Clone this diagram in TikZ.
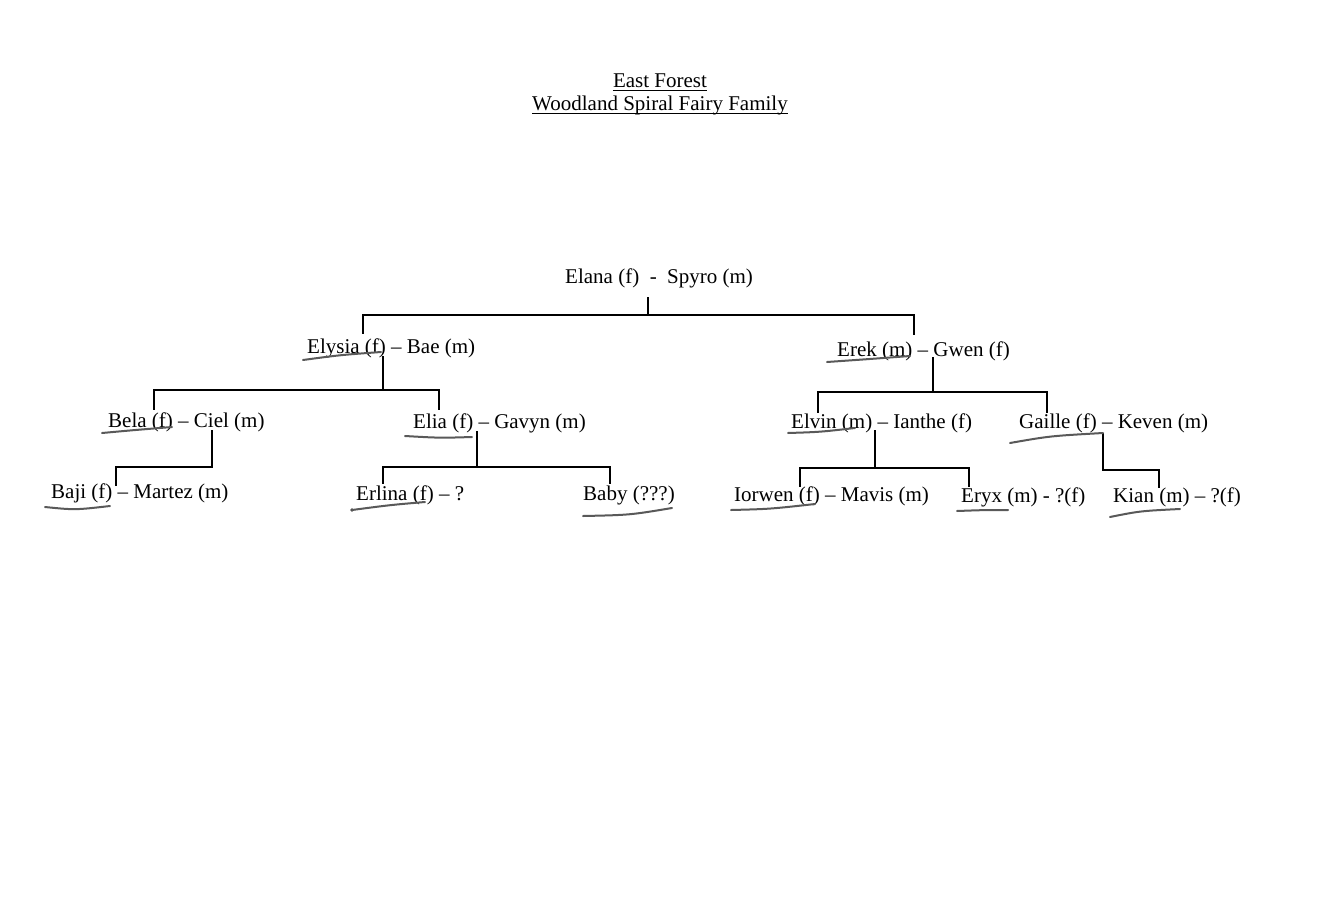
\documentclass[tikz,border=0pt]{standalone}
\usepackage{fontspec}
\setmainfont{Liberation Serif}
\begin{document}
\begin{tikzpicture}[x=1pt,y=-1pt,
  person/.style={anchor=base west,inner sep=0pt,font=\fontsize{21}{25}\selectfont},
  heading/.style={anchor=base,inner sep=0pt,font=\fontsize{21}{25}\selectfont},
  link/.style={draw=black,line width=1.5pt},
  ink/.style={draw=black!65,line width=2pt,line cap=round}]
\fill[white] (0,0) rectangle (1326,900);
\useasboundingbox (0,0) rectangle (1326,900);

% title
\node[heading] (t1) at (660,87) {East Forest};
\node[heading] (t2) at (660,110) {Woodland Spiral Fairy Family};
\draw[line width=1pt] ([yshift=-3pt]t1.base west) -- ([yshift=-3pt]t1.base east);
\draw[line width=1pt] ([yshift=-3pt]t2.base west) -- ([yshift=-3pt]t2.base east);

% people
\node[person] (root)   at (565,283) {Elana (f)~~-~~Spyro (m)};
\node[person] (elysia) at (307,353) {Elysia (f) -- Bae (m)};
\node[person] (erek)   at (837,356) {Erek (m) -- Gwen (f)};
\node[person] (bela)   at (108,427) {Bela (f) -- Ciel (m)};
\node[person] (elia)   at (413,428) {Elia (f) -- Gavyn (m)};
\node[person] (elvin)  at (791,428) {Elvin (m) -- Ianthe (f)};
\node[person] (gaille) at (1019,428) {Gaille (f) -- Keven (m)};
\node[person] (baji)   at (51,498) {Baji (f) -- Martez (m)};
\node[person] (erlina) at (356,500) {Erlina (f) -- ?};
\node[person] (baby)   at (583,500) {Baby (???)};
\node[person] (iorwen) at (734,501) {Iorwen (f) -- Mavis (m)};
\node[person] (eryx)   at (961,502) {Eryx (m) - ?(f)};
\node[person] (kian)   at (1113,502) {Kian (m) -- ?(f)};

% connector points
\coordinate (rD) at (648,297);   \coordinate (rB) at (648,315);
\coordinate (elysiaT) at (363,334); \coordinate (erekT) at (914,335);
\coordinate (elysiaD) at (383,356); \coordinate (elysiaB) at (383,390);
\coordinate (belaT) at (154,410);   \coordinate (eliaT) at (439,410);
\coordinate (erekD) at (933,357);   \coordinate (erekB) at (933,392);
\coordinate (elvinT) at (818,413);  \coordinate (gailleT) at (1047,413);
\coordinate (belaD) at (212,430);   \coordinate (belaB) at (212,467);
\coordinate (bajiT) at (116,486);
\coordinate (eliaD) at (477,431);   \coordinate (eliaB) at (477,467);
\coordinate (erlinaT) at (383,484); \coordinate (babyT) at (610,484);
\coordinate (elvinD) at (875,430);  \coordinate (elvinB) at (875,468);
\coordinate (iorwenT) at (800,487); \coordinate (eryxT) at (969,487);
\coordinate (gailleD) at (1103,433); \coordinate (gailleB) at (1103,470);
\coordinate (kianT) at (1159,488);

\draw[link] (rD) -- (rB);
\draw[link] (rB) -| (elysiaT);
\draw[link] (rB) -| (erekT);
\draw[link] (elysiaD) -- (elysiaB);
\draw[link] (elysiaB) -| (belaT);
\draw[link] (elysiaB) -| (eliaT);
\draw[link] (erekD) -- (erekB);
\draw[link] (erekB) -| (elvinT);
\draw[link] (erekB) -| (gailleT);
\draw[link] (belaD) -- (belaB) -| (bajiT);
\draw[link] (eliaD) -- (eliaB);
\draw[link] (eliaB) -| (erlinaT);
\draw[link] (eliaB) -| (babyT);
\draw[link] (elvinD) -- (elvinB);
\draw[link] (elvinB) -| (iorwenT);
\draw[link] (elvinB) -| (eryxT);
\draw[link] (gailleD) -- (gailleB) -| (kianT);

% hand-drawn underlines
\draw[ink] (303,360) .. controls (340,355) .. (381,352);
\draw[ink] (827,362) .. controls (870,359) .. (910,356);
\draw[ink] (102,433) .. controls (135,430) .. (172,427);
\draw[ink] (405,436) .. controls (440,438) .. (472,437);
\draw[ink] (45,507) .. controls (75,510) .. (110,506);
\fill[black!70] (352,510) circle (1.8pt);
\draw[ink] (352,510) .. controls (390,505) .. (425,502);
\draw[ink] (583,516) .. controls (630,515) .. (672,508);
\draw[ink] (788,433) .. controls (820,432) .. (855,428);
\draw[ink] (1010,443) .. controls (1050,436) .. (1103,433);
\draw[ink] (731,510) .. controls (770,509) .. (815,504);
\draw[ink] (957,511) .. controls (985,510) .. (1008,510);
\draw[ink] (1110,517) .. controls (1140,511) .. (1180,509);
\end{tikzpicture}
\end{document}
